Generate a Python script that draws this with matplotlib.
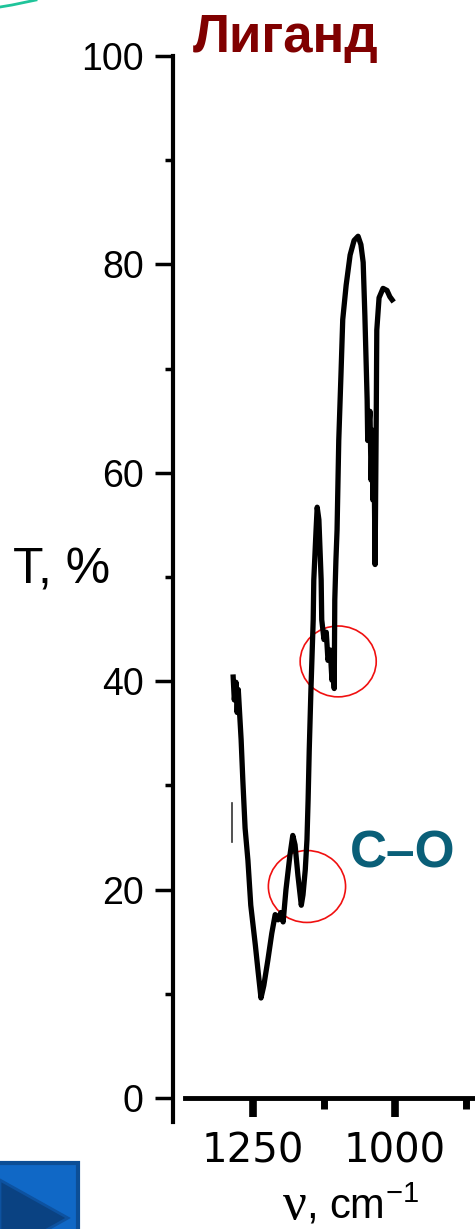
import matplotlib
matplotlib.use("Agg")
import matplotlib.pyplot as plt
from matplotlib.patches import Ellipse, Polygon, Rectangle
from matplotlib.lines import Line2D

plt.rcParams['font.family'] = ['Liberation Sans', 'DejaVu Sans']
plt.rcParams['mathtext.fontset'] = 'custom'
plt.rcParams['mathtext.rm'] = 'Liberation Sans'

W, H = 475, 1229

# IR spectrum of the ligand
wavenumber = [1285, 1283, 1280, 1278, 1276, 1273, 1271, 1268, 1264, 1259,
              1254, 1246, 1241, 1236, 1231, 1224, 1217, 1211, 1206, 1201,
              1197, 1192, 1185, 1180, 1176, 1171, 1165, 1162, 1158, 1155,
              1153, 1151, 1148, 1144, 1143, 1139, 1137, 1134, 1130, 1129,
              1125, 1121, 1118, 1114, 1111, 1109, 1107, 1106, 1104, 1102,
              1099, 1095, 1092, 1086, 1079, 1072, 1065, 1060, 1056, 1053,
              1049, 1048, 1044, 1042, 1040, 1039, 1037, 1035, 1033, 1032,
              1028, 1021, 1014, 1009, 1005]
transmission = [40.4, 38.2, 39.9, 37.0, 39.2, 36.3, 34.4, 30.5, 25.9, 22.8,
                18.5, 14.7, 12.1, 9.6, 10.8, 13.2, 15.8, 17.6, 17.1, 17.8,
                16.9, 20.0, 23.3, 25.2, 24.3, 21.4, 18.5, 19.5, 21.9, 24.8,
                28.6, 33.4, 39.2, 45.9, 49.7, 54.5, 56.7, 55.5, 49.7, 45.9,
                44.0, 44.7, 42.0, 43.0, 40.1, 42.0, 39.3, 47.8, 51.6, 54.5,
                63.1, 69.6, 74.7, 78.0, 80.9, 82.3, 82.7, 81.9, 80.2, 75.1,
                67.0, 63.1, 65.9, 59.3, 64.1, 57.4, 62.2, 51.2, 65.1, 73.7,
                76.8, 77.7, 77.5, 76.9, 76.6]

# little stray mark left of the curve
stray_wn = [1287, 1287]
stray_t = [28.3, 24.6]

# C-O bands circled in red: centre wn, centre T, width (cm-1), height (%)
band_wn = [1100, 1155]
band_t = [41.9, 20.3]
band_w = [134, 136]
band_h = [6.8, 6.9]

yticks_major = [0, 20, 40, 60, 80, 100]
yticks_minor = [10, 30, 50, 70, 90]
xticks_major = [1250, 1000]
xticks_minor = [1125, 875]


def fx(x):
    return x / W


def fy(y):
    return 1 - y / H


fig = plt.figure(figsize=(W / 100, H / 100), dpi=100)
fig.patch.set_facecolor('white')

ax = fig.add_axes([fx(173), fy(1122), (475 - 173) / W, (1122 - 56) / H])
ax.set_xlim(1391, 859)
ax.set_ylim(-2.3, 100)
ax.patch.set_alpha(0)

for s in ['top', 'right']:
    ax.spines[s].set_visible(False)
ax.spines['left'].set_linewidth(3)
ax.spines['bottom'].set_position(('data', 0))
ax.spines['bottom'].set_bounds(859, 1370)
ax.spines['bottom'].set_linewidth(3.5)

ax.set_yticks(yticks_major)
ax.set_yticks(yticks_minor, minor=True)
ax.set_xticks(xticks_major)
ax.set_xticks(xticks_minor, minor=True)
ax.set_xticklabels([str(v) for v in xticks_major], fontfamily='DejaVu Sans')

ax.tick_params(axis='y', which='major', length=13, width=2.5, labelsize=27, pad=8)
ax.tick_params(axis='y', which='minor', length=5.5, width=2.5)
ax.tick_params(axis='x', which='major', length=14, width=5.5, labelsize=29, pad=10)
ax.tick_params(axis='x', which='minor', length=8, width=5)

ax.plot(wavenumber, transmission, color='black', lw=3.8)
ax.plot(stray_wn, stray_t, color='#333333', lw=1.2)

for cx, cy, w, h in zip(band_wn, band_t, band_w, band_h):
    ax.add_patch(Ellipse((cx, cy), w, h, fill=False, ec='#f01010', lw=1.2))

# texts
fig.text(fx(193), fy(52), 'Лиганд', color='#800000', fontsize=38,
         fontweight='bold', va='baseline', ha='left')
fig.text(fx(350), fy(867), 'C–O', color='#0a5f78', fontsize=37,
         fontweight='bold', va='baseline', ha='left')
fig.text(fx(13), fy(583), 'T, %', fontsize=36, va='baseline', ha='left')
fig.text(fx(283), fy(1219), 'ν', family='Liberation Serif', fontsize=38,
         va='baseline', ha='left')
fig.text(fx(306), fy(1219), r', cm$^{-1}$', fontsize=30, va='baseline', ha='left')

# slide decorations
fig.add_artist(Line2D([fx(0), fx(12), fx(24), fx(36)],
                      [fy(7), fy(5), fy(2.5), fy(0)],
                      color='#1fc49a', lw=2, transform=fig.transFigure))
fig.add_artist(Rectangle((fx(-5), fy(1240)), 83 / W, 77 / H,
                         transform=fig.transFigure, fc='#1068c6',
                         ec='#0c4e96', lw=3))
fig.add_artist(Polygon([(fx(0), fy(1180)), (fx(68), fy(1218)), (fx(0), fy(1256))],
                       closed=True, transform=fig.transFigure,
                       fc='#0a4282', ec='#0d52a0', lw=2))

fig.savefig('out.png', dpi=100)
